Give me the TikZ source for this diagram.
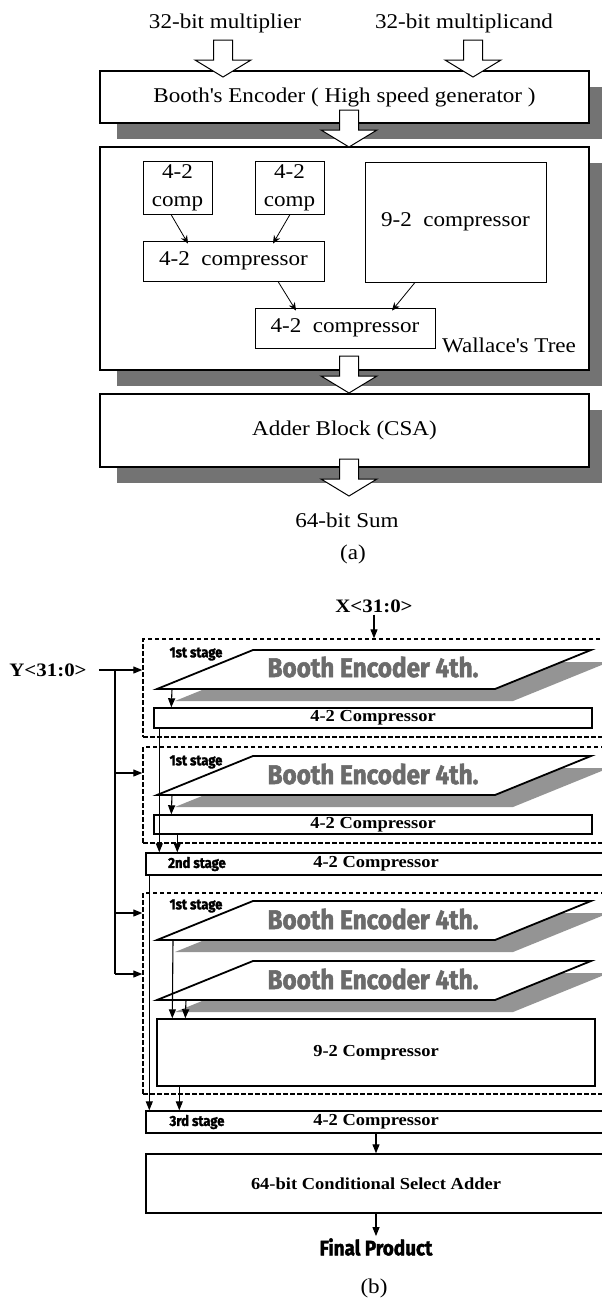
\documentclass[tikz,border=0pt]{standalone}
\usepackage{fontspec}
\setmainfont{Liberation Serif}[FakeStretch=1.1]
\newfontfamily\impactfont{Fira Sans}[FakeStretch=0.9,BoldFeatures={FakeBold=2}]
\usetikzlibrary{arrows.meta,shadows}

\definecolor{shadowgray}{gray}{0.45}
\definecolor{encshadow}{gray}{0.58}
\definecolor{enctext}{gray}{0.42}

\tikzset{
  box/.style={draw,line width=1.2pt,fill=white,inner sep=0pt,font=\fontsize{21}{28}\selectfont},
  shbox/.style={box,drop shadow={shadow xshift=17pt,shadow yshift=-16pt,fill=shadowgray,opacity=1}},
  inbox/.style={draw,line width=0.9pt,fill=white,inner sep=0pt,align=center,font=\fontsize{21}{28}\selectfont},
  txt/.style={inner sep=2pt,font=\fontsize{21}{28}\selectfont},
  hollow/.pic={\draw[line width=1pt,fill=white] (0,0) -- (-28,-17) -- (-9.5,-17) -- (-9.5,-37)
    -- (9.5,-37) -- (9.5,-17) -- (28,-17) -- cycle;},
  cbox/.style={draw,line width=1.4pt,fill=white,inner sep=0pt,font=\fontsize{16.8}{20}\selectfont\bfseries},
  frame/.style={draw,line width=1.4pt,dash pattern=on 4.5pt off 2.5pt,inner sep=0pt},
  btxt/.style={inner sep=2pt,font=\fontsize{19}{22}\selectfont\bfseries},
  stagetxt/.style={inner sep=0pt,font=\impactfont\fontsize{14.5}{16}\selectfont\bfseries},
  enctxt/.style={inner sep=0pt,text=enctext,font=\impactfont\fontsize{27}{30}\selectfont\bfseries},
  encline/.style={line width=1.8pt,fill=white},
  sarrow/.style={line width=1.1pt,-{Triangle[length=9pt,width=7pt]}},
}

\begin{document}
\begin{tikzpicture}[x=1pt,y=-1pt,>={Stealth[length=8pt,width=7pt]}]

    \clip (0,0) rectangle (602,1299);

    % (a) 输入
    \node[txt] (mplier) at (225,23) {32-bit multiplier};
    \node[txt] (mcand) at (464,23) {32-bit multiplicand};

    % (a) 带阴影的方框
    \node[shbox,minimum width=489,minimum height=52] (booth) at (344.5,97) {Booth\textquotesingle s Encoder ( High speed generator )};
    \node[shbox,minimum width=489,minimum height=223] (wallace) at (344.5,258.5) {};
    \node[shbox,minimum width=489,minimum height=73] (adder) at (344.5,430.5) {Adder Block (CSA)};

    % Wallace 树内部
    \node[inbox,minimum width=69,minimum height=53] (c1) at (177.5,187.5) {4-2\\comp};
    \node[inbox,minimum width=69,minimum height=53] (c2) at (289.5,187.5) {4-2\\comp};
    \node[inbox,minimum width=181,minimum height=120] (c92) at (455.5,222) {9-2~ compressor};
    \node[inbox,minimum width=181,minimum height=40] (cmid) at (233.5,261) {4-2~ compressor};
    \node[inbox,minimum width=180,minimum height=40] (cbot) at (345,328) {4-2~ compressor};
    \node[txt] (wt) at (509,345) {Wallace\textquotesingle s Tree};

    \draw[->,line width=0.8pt] ([xshift=-6.5]c1.south) -- ([xshift=-45.5,yshift=-3]cmid.north);
    \draw[->,line width=0.8pt] ([xshift=0.5]c2.south) -- ([xshift=39.5,yshift=-3]cmid.north);
    \draw[->,line width=0.8pt] ([xshift=44.5]cmid.south) -- ([xshift=-49,yshift=-3]cbot.north);
    \draw[->,line width=0.8pt] ([xshift=-40.5]c92.south) -- ([xshift=47,yshift=-3]cbot.north);

    % 空心箭头
    \pic at (223,77) {hollow};
    \pic at (473,77) {hollow};
    \pic at (349,147) {hollow};
    \pic at (349,393) {hollow};
    \pic at (349,496) {hollow};

    \node[txt] (sum) at (347,520) {64-bit Sum};
    \node[txt] (capa) at (353,554) {(a)};

    % (b) 输入
    \node[btxt] (xin) at (374,606) {X<31:0>};
    \node[btxt] (yin) at (48,670) {Y<31:0>};

    % 虚线框
    \node[frame,minimum width=463,minimum height=98] (st1) at (374.5,688) {};
    \node[frame,minimum width=463,minimum height=96] (st2) at (374.5,795) {};
    \node[frame,minimum width=463,minimum height=201] (st3) at (374.5,993.5) {};

    % Booth 编码器(平行四边形)
    \coordinate (e1) at (157,689);
    \coordinate (e2) at (157,795);
    \coordinate (e3) at (157,940);
    \coordinate (e4) at (157,1000);

    \fill[encshadow] ([shift={(18,12)}]e1) -- ++(338,0) -- ++(96,-39) -- ++(-338,0) -- cycle;
    \draw[encline] (e1) -- ++(338,0) -- ++(96,-39) -- ++(-338,0) -- cycle;
    \node[enctxt] (t1) at ([shift={(216,-22)}]e1) {Booth Encoder 4th.};

    \fill[encshadow] ([shift={(18,12)}]e2) -- ++(338,0) -- ++(96,-39) -- ++(-338,0) -- cycle;
    \draw[encline] (e2) -- ++(338,0) -- ++(96,-39) -- ++(-338,0) -- cycle;
    \node[enctxt] (t2) at ([shift={(216,-21)}]e2) {Booth Encoder 4th.};

    \fill[encshadow] ([shift={(18,12)}]e3) -- ++(338,0) -- ++(96,-39) -- ++(-338,0) -- cycle;
    \draw[encline] (e3) -- ++(338,0) -- ++(96,-39) -- ++(-338,0) -- cycle;
    \node[enctxt] (t3) at ([shift={(216,-21)}]e3) {Booth Encoder 4th.};

    \fill[encshadow] ([shift={(18,12)}]e4) -- ++(338,0) -- ++(96,-39) -- ++(-338,0) -- cycle;
    \draw[encline] (e4) -- ++(338,0) -- ++(96,-39) -- ++(-338,0) -- cycle;
    \node[enctxt] (t4) at ([shift={(216,-21)}]e4) {Booth Encoder 4th.};

    \node[stagetxt] (l1) at (196,654) {1st stage};
    \node[stagetxt] (l2) at (196,762) {1st stage};
    \node[stagetxt] (l3) at (196,906) {1st stage};

    % 压缩器与加法器
    \node[cbox,minimum width=438,minimum height=20] (cmp1) at (373,718) {4-2 Compressor};
    \node[cbox,minimum width=438,minimum height=19] (cmp2) at (373,824.5) {4-2 Compressor};
    \node[cbox,minimum width=460,minimum height=22] (s2) at (376,864) {4-2 Compressor};
    \node[cbox,minimum width=438,minimum height=67] (c9) at (376,1052.5) {9-2 Compressor};
    \node[cbox,minimum width=460,minimum height=22] (s3) at (376,1122) {4-2 Compressor};
    \node[cbox,minimum width=460,minimum height=59] (csa) at (376,1183.5) {64-bit Conditional Select Adder};

    \node[stagetxt] (l4) at (197,864) {2nd stage};
    \node[stagetxt] (l5) at (197,1122) {3rd stage};

    % 连线
    \draw[sarrow] (xin.south) -- (xin.south |- st1.north);

    \coordinate (ytrunk) at (115,670);
    \coordinate (y2) at (115,773);
    \coordinate (y3) at (115,913);
    \coordinate (y4) at (115,974);
    \draw[line width=1.1pt] ([xshift=10pt]yin.east) -- (ytrunk) -- (y4);
    \draw[sarrow] (ytrunk) -- (ytrunk -| st1.west);
    \draw[sarrow] (y2) -- (y2 -| st2.west);
    \draw[sarrow] (y3) -- (y3 -| st3.west);
    \draw[sarrow] (y4) -- (y4 -| st3.west);

    \draw[sarrow] ([xshift=15]e1) -- ([xshift=18]cmp1.north west);
    \draw[sarrow] ([xshift=15]e2) -- ([xshift=18]cmp2.north west);
    \draw[sarrow] ([xshift=6]cmp1.south west) -- ([xshift=14]s2.north west);
    \draw[sarrow] ([xshift=24]cmp2.south west) -- ([xshift=32]s2.north west);
    \draw[sarrow] ([xshift=4]s2.south west) -- ([xshift=4]s3.north west);
    \draw[sarrow] ([xshift=16]e3) -- ([xshift=16]c9.north west);
    \draw[sarrow] ([xshift=29]e4) -- ([xshift=29]c9.north west);
    \draw[sarrow] ([xshift=23]c9.south west) -- ([xshift=34]s3.north west);
    \draw[sarrow] (s3.south) -- (csa.north);

    \node[inner sep=2pt,font=\impactfont\fontsize{21}{24}\selectfont\bfseries] (final) at (376,1247) {Final Product};
    \draw[sarrow] (csa.south) -- (final.north);

    \node[txt] (capb) at (374,1288) {(b)};

\end{tikzpicture}
\end{document}
